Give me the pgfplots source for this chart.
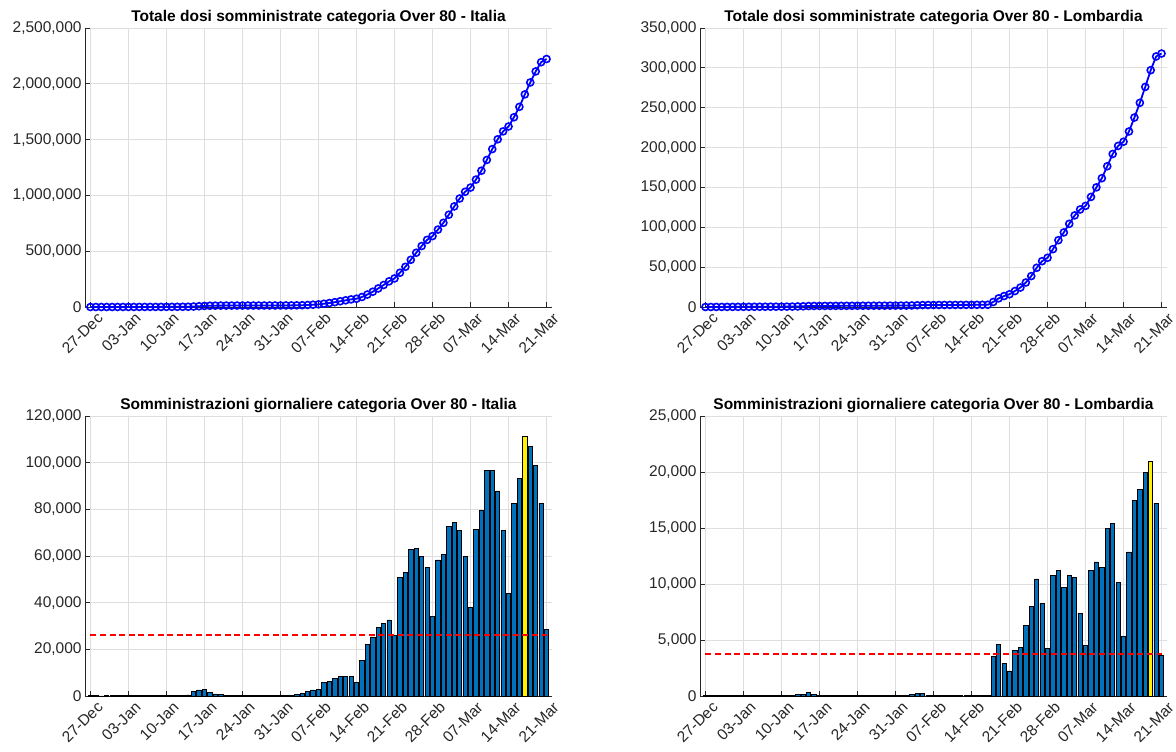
\documentclass[border=0pt]{standalone}
\usepackage{fontspec}
\setmainfont{Liberation Sans}
\usepackage{pgfplots}
\usepackage{pgfplotstable}
\pgfplotsset{compat=1.18}

\definecolor{matblue}{rgb}{0,0.447,0.741}
\definecolor{gridgray}{rgb}{0.87,0.87,0.87}
\definecolor{axgray}{rgb}{0.15,0.15,0.15}

% day index: 0 = 27-Dec ... 84 = 21-Mar
% d = day, v = daily doses, c = cumulative doses
\pgfplotstableread{
d v c
0 60 60
1 70 130
2 50 180
3 60 240
4 80 320
5 70 390
6 60 450
7 80 530
8 90 620
9 70 690
10 80 770
11 90 860
12 100 960
13 110 1070
14 200 1270
15 250 1520
16 250 1770
17 300 2070
18 450 2520
19 1800 4320
20 2600 6920
21 2900 9820
22 1400 11220
23 900 12120
24 500 12620
25 150 12770
26 100 12870
27 100 12970
28 100 13070
29 100 13170
30 100 13270
31 100 13370
32 100 13470
33 100 13570
34 100 13670
35 150 13820
36 250 14070
37 400 14470
38 700 15170
39 1000 16170
40 1900 18070
41 2600 20670
42 2900 23570
43 5700 29270
44 6400 35670
45 7700 43370
46 8200 51570
47 8500 60070
48 8200 68270
49 6000 74270
50 15400 89670
51 22000 111670
52 25300 136970
53 29400 166370
54 31100 197470
55 32600 230070
56 26100 256170
57 50900 307070
58 53100 360170
59 62900 423070
60 63300 486370
61 60000 546370
62 55100 601470
63 34000 635470
64 58300 693770
65 60700 754470
66 72600 827070
67 74400 901470
68 70900 972370
69 60000 1032370
70 38000 1070370
71 71300 1141670
72 79700 1221370
73 96700 1318070
74 96700 1414770
75 87900 1502670
76 71100 1573770
77 43900 1617670
78 82700 1700370
79 93300 1793670
80 111400 1905070
81 107000 2012070
82 98900 2110970
83 82700 2193670
84 28600 2222270
}\italia

\pgfplotstableread{
d v c
0 30 30
1 30 60
2 30 90
3 30 120
4 30 150
5 30 180
6 30 210
7 30 240
8 30 270
9 30 300
10 30 330
11 30 360
12 30 390
13 30 420
14 30 450
15 30 480
16 50 530
17 180 710
18 180 890
19 300 1190
20 120 1310
21 30 1340
22 30 1370
23 30 1400
24 30 1430
25 30 1460
26 30 1490
27 30 1520
28 30 1550
29 30 1580
30 30 1610
31 30 1640
32 30 1670
33 30 1700
34 30 1730
35 30 1760
36 30 1790
37 30 1820
38 120 1940
39 240 2180
40 240 2420
41 50 2470
42 30 2500
43 30 2530
44 30 2560
45 30 2590
46 30 2620
47 30 2650
48 30 2680
49 30 2710
50 30 2740
51 30 2770
52 30 2800
53 3500 6300
54 4570 10870
55 2900 13770
56 2240 16010
57 4060 20070
58 4360 24430
59 6300 30730
60 8030 38760
61 10450 49210
62 8300 57510
63 4270 61780
64 10800 72580
65 11250 83830
66 9730 93560
67 10800 104360
68 10570 114930
69 7400 122330
70 4540 126870
71 11250 138120
72 11970 150090
73 11500 161590
74 15000 176590
75 15400 191990
76 10100 202090
77 5280 207370
78 12860 220230
79 17460 237690
80 18480 256170
81 19970 276140
82 20960 297100
83 17220 314320
84 3670 317990
}\lombardia

\pgfplotsset{
  matax/.style={
    scale only axis,
    width=233.5pt,
    xmin=-1, xmax=85,
    ymin=0,
    axis x line*=bottom,
    axis y line*=left,
    axis line style={-, axgray, line width=0.5pt},
    tick style={axgray, line width=0.5pt},
    major tick length=2.5pt,
    tick align=inside,
    xmajorgrids, ymajorgrids,
    grid style={gridgray, line width=0.5pt},
    xtick={0,7,...,84},
    xticklabels={27-Dec,03-Jan,10-Jan,17-Jan,24-Jan,31-Jan,07-Feb,14-Feb,21-Feb,28-Feb,07-Mar,14-Mar,21-Mar},
    xticklabel style={rotate=45, anchor=north east, inner sep=0.5pt, yshift=-3pt, xshift=1pt,
      font=\fontsize{7.75}{9}\selectfont, text=axgray},
    yticklabel style={font=\fontsize{7.75}{9}\selectfont, text=axgray, inner sep=1.5pt},
    scaled y ticks=false,
    /pgf/number format/.cd, fixed, 1000 sep={,}, assume math mode=true,
    /pgfplots/.cd,
    every axis title shift=0pt,
    title style={font=\fontsize{7.75}{9}\selectfont\bfseries, inner sep=1.5pt},
  },
  cumline/.style={blue, line width=0.9pt, mark=o, mark size=1.75pt, mark options={line width=0.8pt}},
  dbar/.style={ybar, bar width=0.8, bar shift=0pt, fill=matblue, draw=black, line width=0.4pt},
  ybarhl/.style={ybar, bar width=0.8, bar shift=0pt, fill=yellow, draw=black, line width=0.4pt},
  meanline/.style={red, line width=0.9pt, dash pattern=on 3pt off 1.8pt},
}

\begin{document}
\begin{tikzpicture}
\useasboundingbox (0,0) rectangle (588pt,-375.5pt);

\begin{axis}[matax, at={(42.5pt,-153.5pt)}, anchor=south west, height=139.5pt,
  ymax=2500000, ytick={0,500000,...,2500000},
  title={Totale dosi somministrate categoria Over 80 - Italia}]
\addplot[cumline] table[x=d, y=c] {\italia};
\end{axis}

\begin{axis}[matax, at={(350pt,-153.5pt)}, anchor=south west, height=139.5pt,
  ymax=350000, ytick={0,50000,...,350000},
  title={Totale dosi somministrate categoria Over 80 - Lombardia}]
\addplot[cumline] table[x=d, y=c] {\lombardia};
\end{axis}

\begin{axis}[matax, at={(42.5pt,-348pt)}, anchor=south west, height=140pt,
  ymax=120000, ytick={0,20000,...,120000},
  title={Somministrazioni giornaliere categoria Over 80 - Italia}]
\addplot[dbar] table[x=d, y=v] {\italia};
\addplot[ybarhl] coordinates {(80,111400)};
\addplot[meanline] coordinates {(0,26144) (84,26144)};
\end{axis}

\begin{axis}[matax, at={(350pt,-348pt)}, anchor=south west, height=140pt,
  ymax=25000, ytick={0,5000,...,25000},
  title={Somministrazioni giornaliere categoria Over 80 - Lombardia}]
\addplot[dbar] table[x=d, y=v] {\lombardia};
\addplot[ybarhl] coordinates {(82,20960)};
\addplot[meanline] coordinates {(0,3741) (84,3741)};
\end{axis}
\end{tikzpicture}
\end{document}
